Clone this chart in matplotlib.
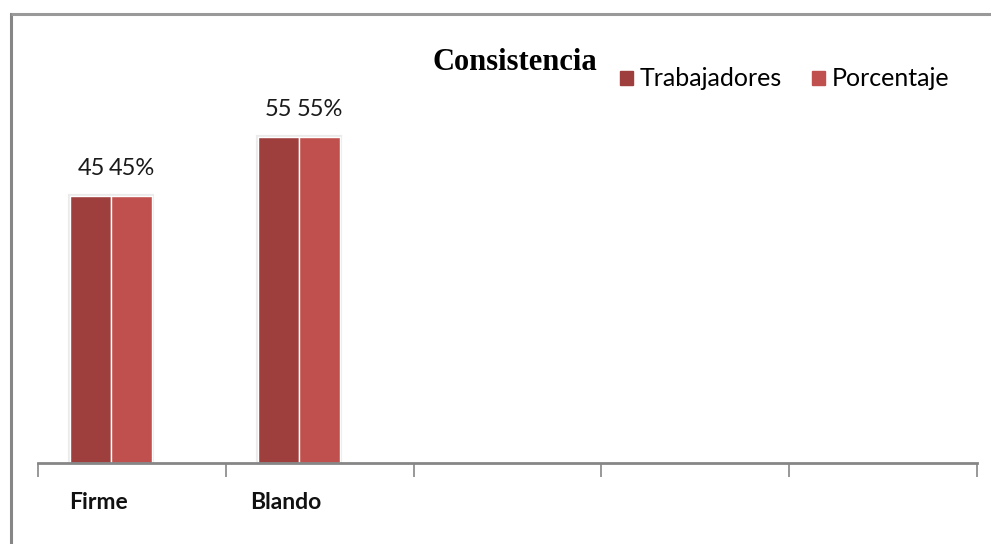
import matplotlib.pyplot as plt
import numpy as np
from matplotlib.lines import Line2D
from matplotlib.patches import Patch

categories = ['Firme', 'Blando']
n_slots = 5
trabajadores = [45, 55]
porcentaje = [45, 55]
porcentaje_labels = ['45%', '55%']

c_trab = '#9E3F3D'
c_porc = '#C0504D'
grey = '#868686'

plt.rcParams['font.family'] = ['Lato', 'DejaVu Sans']

fig = plt.figure(figsize=(9.91, 5.44), dpi=100)
ax = fig.add_axes([38 / 991, 81 / 544, 939 / 991, 415 / 544])

x = np.arange(len(categories)) + 0.5
w = 0.218

# bars: the pair sits left of the slot centre (third series slot empty)
for xs, vals, col in [(x - w, trabajadores, c_trab), (x, porcentaje, c_porc)]:
    ax.bar(xs, vals, width=w, color='none', edgecolor='#ebebeb',
           linewidth=3, zorder=1)
    ax.bar(xs, vals, width=w, color=col, edgecolor='white',
           linewidth=1, zorder=2)

for xi, v in zip(x, trabajadores):
    ax.text(xi - w, v + 4.7, str(v), ha='center', va='center',
            fontsize=17, color='#1a1a1a')
for xi, v, pl in zip(x, porcentaje, porcentaje_labels):
    ax.text(xi, v + 4.7, pl, ha='center', va='center',
            fontsize=17, color='#1a1a1a')

ax.set_xlim(0, n_slots)
ax.set_ylim(0, 70)
for s in ['left', 'right', 'top']:
    ax.spines[s].set_visible(False)
ax.spines['bottom'].set_color(grey)
ax.spines['bottom'].set_linewidth(2)
ax.set_yticks([])
ax.set_xticks(np.arange(n_slots + 1))
ax.set_xticklabels([])
ax.tick_params(axis='x', length=10, width=1.2, color=grey, direction='out')

for xi, cat in zip(x, categories):
    ax.text(xi - 0.18, -6.6, cat, ha='center', va='center',
            fontsize=16.5, fontweight='bold', color='#111111')

fig.text(515 / 991, 1 - 63 / 544, 'Consistencia', ha='center', va='center',
         fontsize=22, fontweight='bold', family='Liberation Serif')

handles = [Patch(color=c_trab, label='Trabajadores'),
           Patch(color=c_porc, label='Porcentaje')]
fig.legend(handles=handles, loc='center left',
           bbox_to_anchor=(620 / 991, 1 - 79 / 544), ncol=2, frameon=False,
           fontsize=18, handlelength=0.5, handleheight=0.5,
           handletextpad=0.3, columnspacing=1.2, borderaxespad=0,
           borderpad=0)

# outer chart-area frame
fig.add_artist(Line2D([11 / 991, 11 / 991], [0, 1 - 14 / 544],
                      transform=fig.transFigure, color=grey, linewidth=2.2))
fig.add_artist(Line2D([11 / 991, 1], [1 - 14 / 544, 1 - 14 / 544],
                      transform=fig.transFigure, color='#999999',
                      linewidth=2.2, solid_capstyle='butt'))

fig.savefig('out.png', dpi=100)
